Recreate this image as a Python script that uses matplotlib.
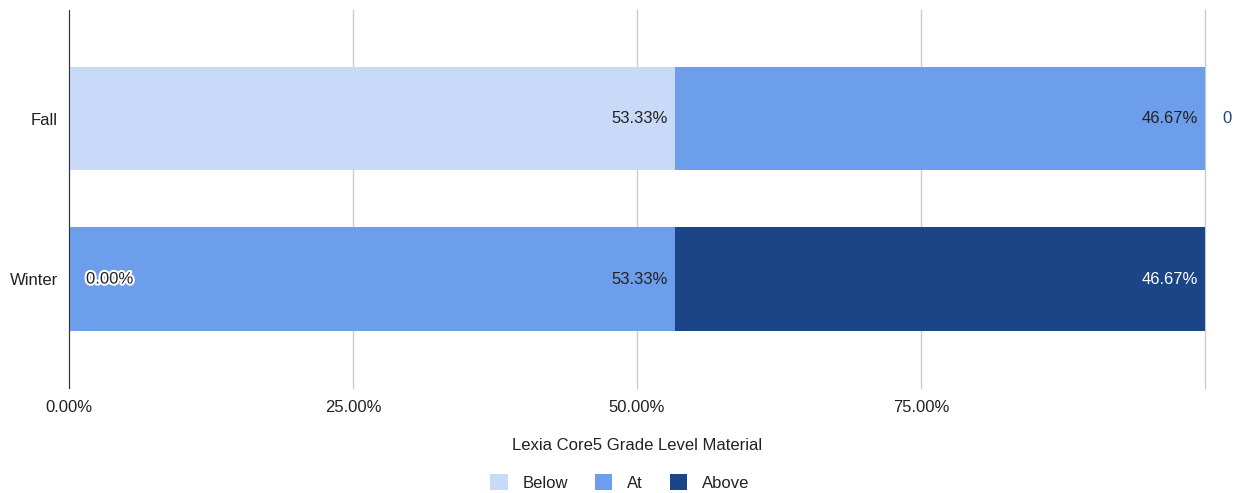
import matplotlib.pyplot as plt
import matplotlib.patheffects as pe
import numpy as np

plt.rcParams['font.family'] = ['Liberation Sans', 'DejaVu Sans']

# Data
terms = ['Fall', 'Winter']
levels = ['Below', 'At', 'Above']
below = [53.33, 0.00]
at = [46.67, 53.33]
above = [0.0, 46.67]
colors = ['#c9daf8', '#6d9eeb', '#1c4587']
text_colors = ['#222222', '#222222', '#ffffff']

fig = plt.figure(figsize=(12.4, 4.93), dpi=100)
ax = fig.add_axes([0.0556, 0.213, 0.9162, 0.767])

y = np.arange(len(terms))
left = np.zeros(len(terms))
for name, vals, c, tc in zip(levels, [below, at, above], colors, text_colors):
    vals = np.array(vals)
    ax.barh(y, vals, left=left, height=0.644, color=c, label=name, zorder=2)
    for yi, (l, v) in enumerate(zip(left, vals)):
        if v > 0:
            ax.text(l + v - 0.6, yi, f'{v:.2f}%', ha='right', va='center',
                    fontsize=12, color=tc, zorder=3)
        elif name == 'Below':
            # zero-width segment: label sits at the start with a white halo
            ax.text(l + 1.5, yi, f'{v:.2f}%', ha='left', va='center',
                    fontsize=12, color='#222222', zorder=3,
                    path_effects=[pe.withStroke(linewidth=3, foreground='white')])
        else:
            ax.text(l + v + 1.5, yi, f'{v:g}', ha='left', va='center',
                    fontsize=12, color='#1c4587', zorder=3, clip_on=False)
    left = left + vals

ax.set_xlim(0, 100)
ax.set_ylim(1.68, -0.68)
ax.set_yticks(y)
ax.set_yticklabels(terms, fontsize=12, color='#222222')
ax.set_xticks([0, 25, 50, 75, 100])
ax.set_xticklabels(['0.00%', '25.00%', '50.00%', '75.00%', ''], fontsize=12, color='#222222')
ax.tick_params(length=0, pad=8)
ax.tick_params(axis='x', pad=9)
ax.grid(axis='x', color='#cccccc', linewidth=1, zorder=0)
for gl in ax.get_xgridlines():
    gl.set_clip_on(False)
for s in ['top', 'right', 'bottom']:
    ax.spines[s].set_visible(False)
ax.spines['left'].set_color('#333333')
ax.spines['left'].set_zorder(4)

ax.set_xlabel('Lexia Core5 Grade Level Material', fontsize=12, color='#222222', labelpad=16)

fig.legend(loc='lower center', bbox_to_anchor=(0.5, -0.026), ncol=3, frameon=False,
           fontsize=12, handlelength=1.05, handleheight=1.05, columnspacing=1.6,
           handletextpad=0.9, labelcolor='#222222')

fig.savefig('out.png', dpi=100)
